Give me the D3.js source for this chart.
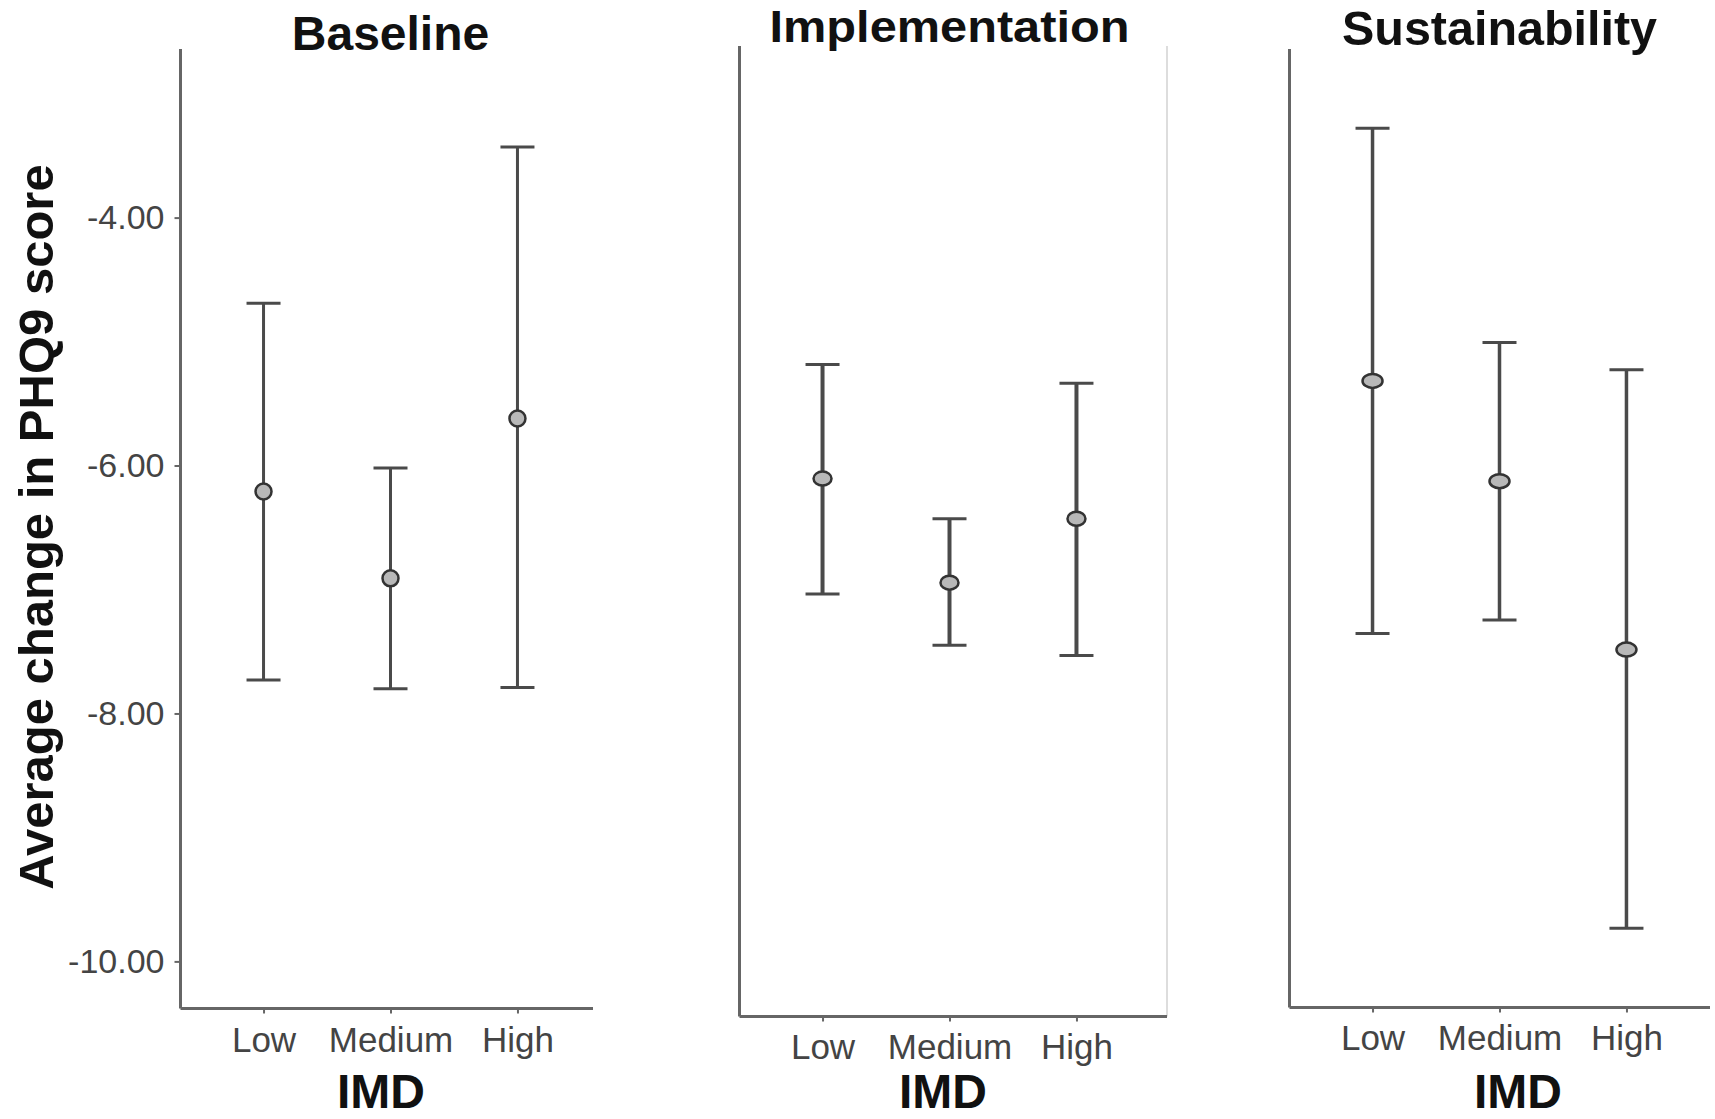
<!DOCTYPE html>
<html>
<head>
<meta charset="utf-8">
<script src="https://cdn.jsdelivr.net/npm/d3@7"></script>
<style>
  body { margin: 0; background: #fff; }
  text { font-family: "Liberation Sans", Arial, sans-serif; }
</style>
</head>
<body>
<div id="chart"></div>
<script>
// data
var categories = ["Low", "Medium", "High"];
var panelNames = ["Baseline", "Implementation", "Sustainability"];
var yTicks = [-4, -6, -8, -10];
var yDomain = [-10.38, -2.64];

var baselineMean = [-6.21, -6.91, -5.62];
var baselineLower = [-7.73, -7.80, -7.79];
var baselineUpper = [-4.69, -6.02, -3.43];

var implementationMean = [-6.09, -6.92, -6.41];
var implementationLower = [-7.01, -7.42, -7.50];
var implementationUpper = [-5.18, -6.41, -5.33];

var sustainabilityMean = [-5.32, -6.13, -7.49];
var sustainabilityLower = [-7.36, -7.25, -9.74];
var sustainabilityUpper = [-3.28, -5.01, -5.23];

function init() {
  var w = 1715;
  var h = 1119;

  var svg = d3.select("#chart")
    .append("svg")
    .attr("width", w)
    .attr("height", h);

  // layout for each panel (the three panels are not quite aligned in the original)
  var panels = [
    { name: panelNames[0], mean: baselineMean, lower: baselineLower, upper: baselineUpper,
      x0: 180.5, xEnd: 593, top: 49, bottom: 1008.5, yLabels: true,
      titleY: 50, titleSize: 48, titleLen: null, tickY: 44, imdX: 381, imdY: 1108,
      barWidth: 3, rx: 8, ry: 8, border: false },
    { name: panelNames[1], mean: implementationMean, lower: implementationLower, upper: implementationUpper,
      x0: 739.5, xEnd: 1167, top: 46, bottom: 1016.5, yLabels: false,
      titleY: 42, titleSize: 44, titleLen: 360, tickY: 43, imdX: 943, imdY: 1108,
      barWidth: 4, rx: 9, ry: 7, border: true },
    { name: panelNames[2], mean: sustainabilityMean, lower: sustainabilityLower, upper: sustainabilityUpper,
      x0: 1289.5, xEnd: 1710, top: 49, bottom: 1007.5, yLabels: false,
      titleY: 45, titleSize: 48, titleLen: 315, tickY: 43, imdX: 1518, imdY: 1108,
      barWidth: 3.5, rx: 10, ry: 7, border: false }
  ];

  var axisColor = "#666";
  var barColor = "#4a4a4a";
  var fmt = d3.format(".2f");

  panels.forEach(function(p) {
    var g = svg.append("g");

    var x = d3.scalePoint()
      .domain(categories)
      .range([p.x0, p.x0 + 420])
      .padding(0.654);

    var y = d3.scaleLinear()
      .domain(yDomain)
      .range([p.bottom, p.top]);

    // right border of the middle panel
    if (p.border) {
      g.append("line")
        .attr("x1", p.xEnd).attr("x2", p.xEnd)
        .attr("y1", p.top).attr("y2", p.bottom)
        .attr("stroke", "#ddd")
        .attr("stroke-width", 2);
    }

    // y axis
    if (p.yLabels) {
      var yAxis = d3.axisLeft(y)
        .tickValues(yTicks)
        .tickSize(6)
        .tickPadding(10)
        .tickFormat(function(d) { return fmt(d).replace("\u2212", "-"); });
      var ya = g.append("g")
        .attr("transform", "translate(" + p.x0 + ",0)")
        .call(yAxis);
      ya.select(".domain").remove();
      ya.selectAll(".tick line").attr("stroke", axisColor).attr("stroke-width", 2);
      ya.selectAll(".tick text")
        .attr("fill", "#444")
        .attr("font-size", "34px");
    }

    g.append("line")
      .attr("x1", p.x0).attr("x2", p.x0)
      .attr("y1", p.top).attr("y2", p.bottom)
      .attr("stroke", axisColor)
      .attr("stroke-width", 3);

    // x axis
    var xAxis = d3.axisBottom(x)
      .tickSize(5)
      .tickPadding(p.tickY - 5 - 25);
    var xa = g.append("g")
      .attr("transform", "translate(0," + p.bottom + ")")
      .call(xAxis);
    xa.select(".domain").remove();
    xa.selectAll(".tick line").attr("stroke", axisColor).attr("stroke-width", 2);
    xa.selectAll(".tick text")
      .attr("fill", "#444")
      .attr("font-size", "35px");

    g.append("line")
      .attr("x1", p.x0).attr("x2", p.xEnd)
      .attr("y1", p.bottom).attr("y2", p.bottom)
      .attr("stroke", axisColor)
      .attr("stroke-width", 3);

    // error bars
    var rows = categories.map(function(c, i) {
      return { cat: c, mean: p.mean[i], lower: p.lower[i], upper: p.upper[i] };
    });

    var bars = g.selectAll(".bar")
      .data(rows)
      .enter()
      .append("g")
      .attr("class", "bar");

    bars.append("line")
      .attr("x1", function(d) { return x(d.cat); })
      .attr("x2", function(d) { return x(d.cat); })
      .attr("y1", function(d) { return y(d.lower); })
      .attr("y2", function(d) { return y(d.upper); })
      .attr("stroke", barColor)
      .attr("stroke-width", p.barWidth);

    [ "lower", "upper" ].forEach(function(k) {
      bars.append("line")
        .attr("x1", function(d) { return x(d.cat) - 17; })
        .attr("x2", function(d) { return x(d.cat) + 17; })
        .attr("y1", function(d) { return y(d[k]); })
        .attr("y2", function(d) { return y(d[k]); })
        .attr("stroke", barColor)
        .attr("stroke-width", 3);
    });

    bars.append("ellipse")
      .attr("cx", function(d) { return x(d.cat); })
      .attr("cy", function(d) { return y(d.mean); })
      .attr("rx", p.rx)
      .attr("ry", p.ry)
      .attr("fill", "#b8b8b8")
      .attr("stroke", "#333")
      .attr("stroke-width", 2.5);

    // titles
    var t = g.append("text")
      .attr("x", x("Medium"))
      .attr("y", p.titleY)
      .attr("text-anchor", "middle")
      .attr("font-weight", "bold")
      .attr("font-size", p.titleSize + "px")
      .attr("fill", "#111")
      .text(p.name);
    if (p.titleLen) {
      t.attr("textLength", p.titleLen).attr("lengthAdjust", "spacingAndGlyphs");
    }

    g.append("text")
      .attr("x", p.imdX)
      .attr("y", p.imdY)
      .attr("text-anchor", "middle")
      .attr("font-weight", "bold")
      .attr("font-size", "48px")
      .attr("fill", "#111")
      .text("IMD");
  });

  // y axis title
  svg.append("text")
    .attr("transform", "translate(53,527) rotate(-90)")
    .attr("text-anchor", "middle")
    .attr("font-weight", "bold")
    .attr("font-size", "49px")
    .attr("fill", "#111")
    .text("Average change in PHQ9 score");
}

window.onload = init;
</script>
</body>
</html>
